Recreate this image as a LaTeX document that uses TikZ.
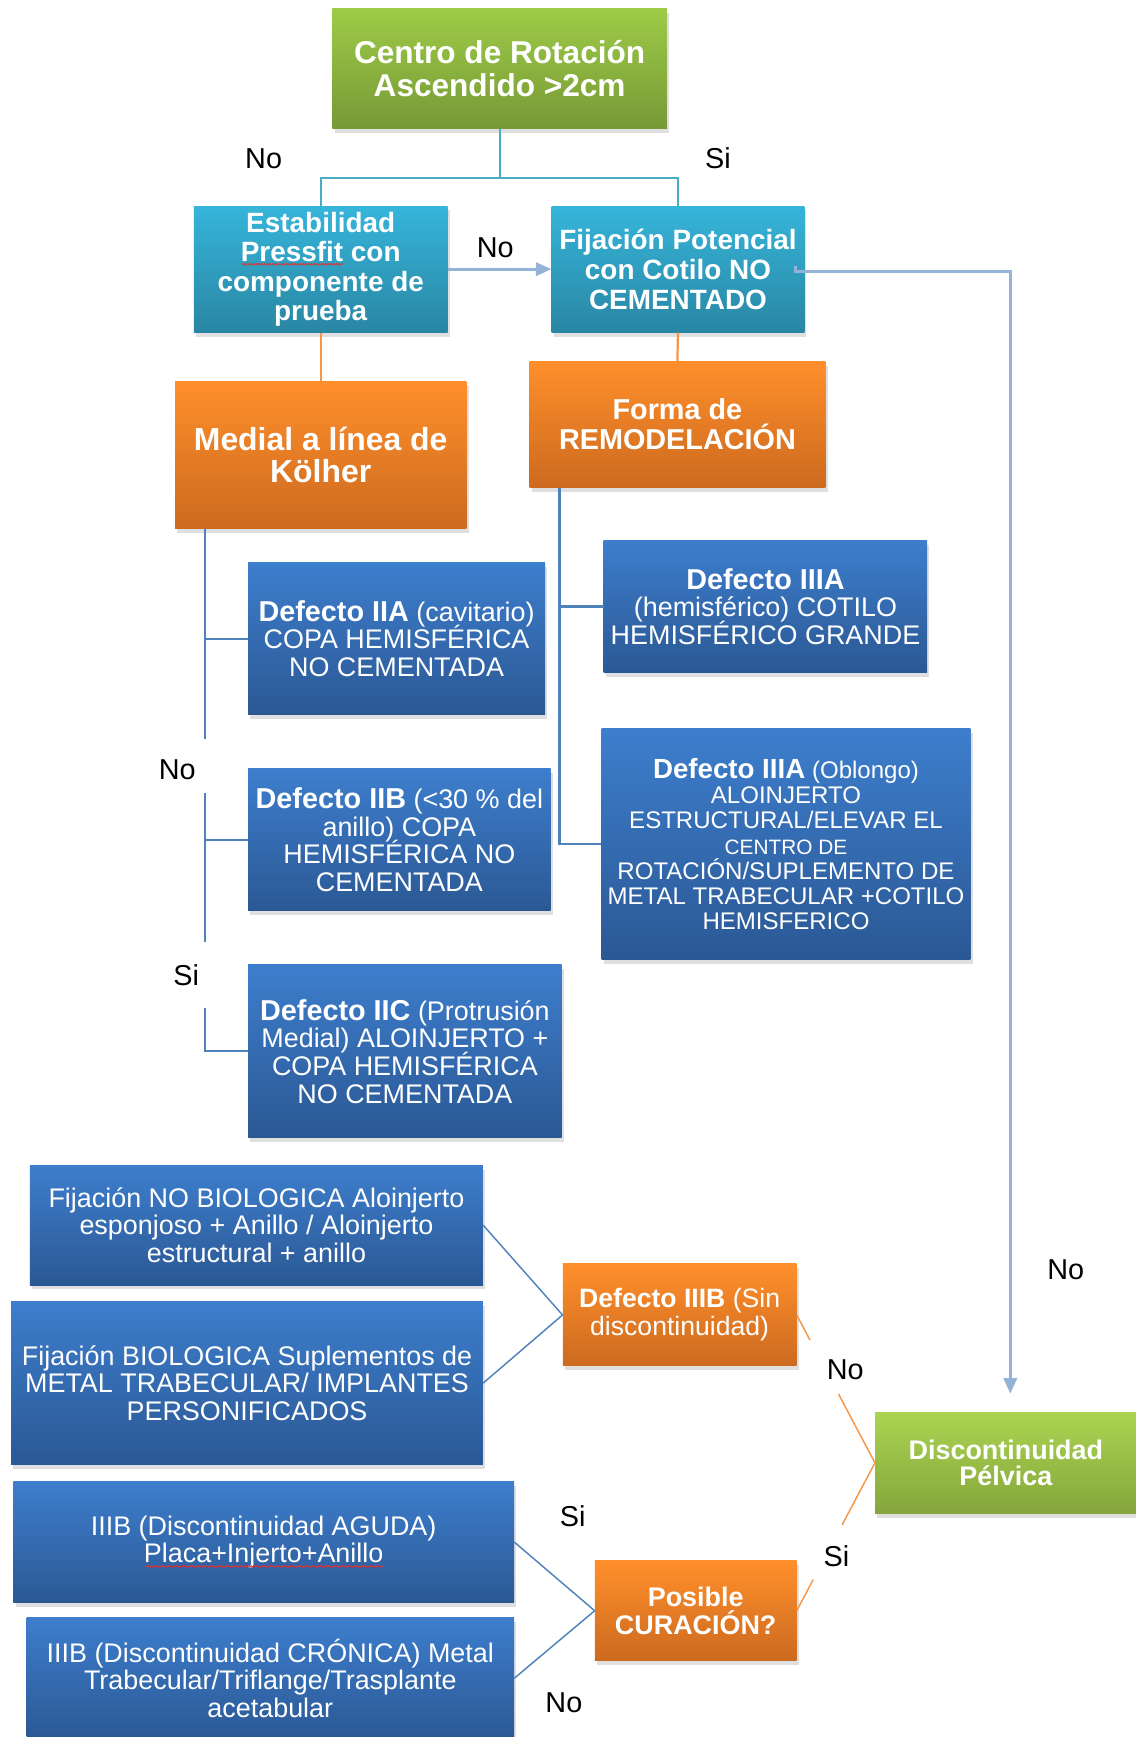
\documentclass[tikz,border=0pt]{standalone}
\usepackage{fontspec}
\setmainfont{Liberation Sans}
\usetikzlibrary{shadows,arrows.meta,decorations.pathmorphing}
\definecolor{grnA}{HTML}{9DCB47}
\definecolor{grnB}{HTML}{779936}
\definecolor{grnC}{HTML}{AAD451}
\definecolor{grnD}{HTML}{86A63C}
\definecolor{tealA}{HTML}{36B5DA}
\definecolor{tealB}{HTML}{2986A3}
\definecolor{orA}{HTML}{FF8F2B}
\definecolor{orB}{HTML}{CC6A1F}
\definecolor{blA}{HTML}{3D7ECD}
\definecolor{blB}{HTML}{2B5894}
\definecolor{tealL}{HTML}{4BACC6}
\definecolor{orL}{HTML}{F79646}
\definecolor{blL}{HTML}{4F81BD}
\definecolor{arL}{HTML}{95B3D7}
\definecolor{spell}{HTML}{E03030}
\lineskiplimit=-50pt
\newcommand{\fsz}[2]{\fontsize{#1}{#2}\selectfont\lineskiplimit=-50pt}
\tikzset{
  box/.style={rectangle, inner sep=0pt, align=center, text=white,
    drop shadow={opacity=0.25, shadow xshift=2pt, shadow yshift=-4pt}},
  greenbox/.style={box, top color=grnA, bottom color=grnB},
  green2box/.style={box, top color=grnC, bottom color=grnD},
  tealbox/.style={box, top color=tealA, bottom color=tealB},
  orbox/.style={box, top color=orA, bottom color=orB},
  bluebox/.style={box, top color=blA, bottom color=blB, font=\fsz{24.3}{25}},
  lbl/.style={inner sep=0pt, font=\fsz{26}{26}, text=black},
  tline/.style={draw=tealL, line width=2pt},
  oline/.style={draw=orL, line width=2pt},
  bline/.style={draw=blL, line width=2pt},
  bthin/.style={draw=blL, line width=1.3pt},
  othin/.style={draw=orL, line width=1.3pt},
  aline/.style={draw=arL, line width=2.5pt, -{Triangle[length=14pt,width=12pt]}},
  spellmark/.style={draw=spell, line width=0.7pt, decorate,
    decoration={snake, amplitude=0.7pt, segment length=2.5pt}},
}
\begin{document}
\begin{tikzpicture}[x=1pt,y=-1pt]
\useasboundingbox (0,0) rectangle (1025,1568);
\fill[white] (0,0) rectangle (1025,1568);

\coordinate (cj) at (451,161);
\coordinate (dtop) at (912,1258);
\coordinate (L1) at (185,667);
\coordinate (L2) at (185,716);
\coordinate (L3) at (185,850);
\coordinate (L4) at (185,910);
\coordinate (R) at (505,440);

% boxes
\node[greenbox, minimum width=302pt, minimum height=108pt, font=\fsz{28.5}{30}\bfseries] (centro) at (451,62) {Centro de Rotación\\Ascendido >2cm};
\node[tealbox, minimum width=229pt, minimum height=114pt, font=\fsz{25.2}{26.7}\bfseries] (estab) at (289.5,243) {Estabilidad\\Pressfit con\\componente de\\prueba};
\node[tealbox, minimum width=228pt, minimum height=114pt, font=\fsz{25.2}{27}\bfseries] (fij) at (612,243) {Fijación Potencial\\con Cotilo NO\\CEMENTADO};
\node[orbox, minimum width=263pt, minimum height=133pt, font=\fsz{28.8}{29}\bfseries] (medial) at (289.5,410.5) {Medial a línea de\\Kölher};
\node[orbox, minimum width=267pt, minimum height=114pt, font=\fsz{26}{27}\bfseries] (forma) at (611.5,383) {Forma de\\REMODELACIÓN};

\node[bluebox, minimum width=268pt, minimum height=137pt] (iia) at (358,576.5) {{\fsz{26}{25}\bfseries Defecto IIA} (cavitario)\\COPA HEMISFÉRICA\\NO CEMENTADA};
\node[bluebox, minimum width=273pt, minimum height=128pt] (iib) at (360.5,758) {{\fsz{26}{25}\bfseries Defecto IIB} (<30 \% del\\anillo) COPA\\HEMISFÉRICA NO\\CEMENTADA};
\node[bluebox, minimum width=283pt, minimum height=156pt] (iic) at (365.5,949) {{\fsz{26}{25}\bfseries Defecto IIC} (Protrusión\\Medial) ALOINJERTO +\\COPA HEMISFÉRICA\\NO CEMENTADA};
\node[bluebox, minimum width=292pt, minimum height=119pt] (iiia) at (691,547.5) {{\fsz{26}{25}\bfseries Defecto IIIA}\\(hemisférico) COTILO\\HEMISFÉRICO GRANDE};
\node[bluebox, minimum width=333pt, minimum height=208pt, font=\fsz{21.7}{22.7}] (iiiab) at (709.5,762) {{\fsz{25}{22.7}\bfseries Defecto IIIA} (Oblongo)\\ALOINJERTO\\ESTRUCTURAL/ELEVAR EL\\{\fsz{18.8}{22.7}CENTRO DE}\\ROTACIÓN/SUPLEMENTO DE\\METAL TRABECULAR +COTILO\\HEMISFERICO};

\node[bluebox, minimum width=409pt, minimum height=108pt] (nobio) at (231.5,1106) {Fijación NO BIOLOGICA Aloinjerto\\esponjoso + Anillo / Aloinjerto\\estructural + anillo};
\node[bluebox, minimum width=426pt, minimum height=147pt] (bio) at (223,1248.5) {Fijación BIOLOGICA Suplementos de\\METAL TRABECULAR/ IMPLANTES\\PERSONIFICADOS};
\node[orbox, minimum width=211pt, minimum height=92pt, font=\fsz{24}{25}] (iiib) at (613.5,1187) {{\bfseries Defecto IIIB} (Sin\\discontinuidad)};
\node[green2box, minimum width=236pt, minimum height=91pt, font=\fsz{24.3}{24}\bfseries] (disc) at (908,1320.5) {Discontinuidad\\Pélvica};
\node[bluebox, minimum width=452pt, minimum height=110pt] (aguda) at (238,1392) {IIIB (Discontinuidad AGUDA)\\Placa+Injerto+Anillo};
\node[bluebox, minimum width=440pt, minimum height=110pt] (cronica) at (244,1515) {IIIB (Discontinuidad CRÓNICA) Metal\\Trabecular/Triflange/Trasplante\\acetabular};
\node[orbox, minimum width=182pt, minimum height=90pt, font=\fsz{24.3}{25}\bfseries] (posible) at (628,1454) {Posible\\CURACIÓN?};

% spell-check marks shown in the reference
\draw[spellmark] (218,238.5) -- (310,238.5);
\draw[spellmark] (131,1414) -- (346,1414);

% connectors
\draw[tline] (centro.south) -- (cj);
\draw[tline] (cj) -| (estab.north);
\draw[tline] (cj) -| (fij.north);
\draw[aline] (estab.east) -- (estab.east -| fij.west);
\draw[aline] ([xshift=-8pt,yshift=3pt]fij.east) |- ([yshift=-2pt]fij.east) -| (dtop);
\draw[oline] (estab.south) -- (medial.north);
\draw[oline] (fij.south) -- (forma.north);

\draw[bline] (medial.south -| L1) -- (L1);
\draw[bline] (iia.west -| L1) -- (iia.west);
\draw[bline] (L2) -- (L3);
\draw[bline] (iib.west -| L2) -- (iib.west);
\draw[bline] (L4) |- (iic.west);

\draw[bline] (forma.south -| R) |- (iiiab.west);
\draw[bline] (iiia.west -| R) -- (iiia.west);

\draw[bthin] (iiib.west) -- (nobio.east);
\draw[bthin] (iiib.west) -- (bio.east);
\draw[bthin] (posible.west) -- (aguda.east);
\draw[bthin] (posible.west) -- (cronica.east);

\path (iiib.east) -- coordinate[pos=0.17] (a1) coordinate[pos=0.535] (a2) (disc.west);
\draw[othin] (iiib.east) -- (a1);
\draw[othin] (a2) -- (disc.west);
\path (posible.east) -- coordinate[pos=0.21] (b1) coordinate[pos=0.58] (b2) (disc.west);
\draw[othin] (posible.east) -- (b1);
\draw[othin] (b2) -- (disc.west);

% labels
\node[lbl] (lno1) at (238,143) {No};
\node[lbl] (lsi1) at (648,143) {Si};
\node[lbl] (lno2) at (447,224) {No};
\node[lbl] (lno3) at (160,695) {No};
\node[lbl] (lsi3) at (168,880) {Si};
\node[lbl] (lno4) at (962,1146) {No};
\node[lbl] (lno5) at (763,1236) {No};
\node[lbl] (lsi5) at (517,1369) {Si};
\node[lbl] (lsi6) at (755,1405) {Si};
\node[lbl] (lno6) at (509,1537) {No};
\end{tikzpicture}
\end{document}
